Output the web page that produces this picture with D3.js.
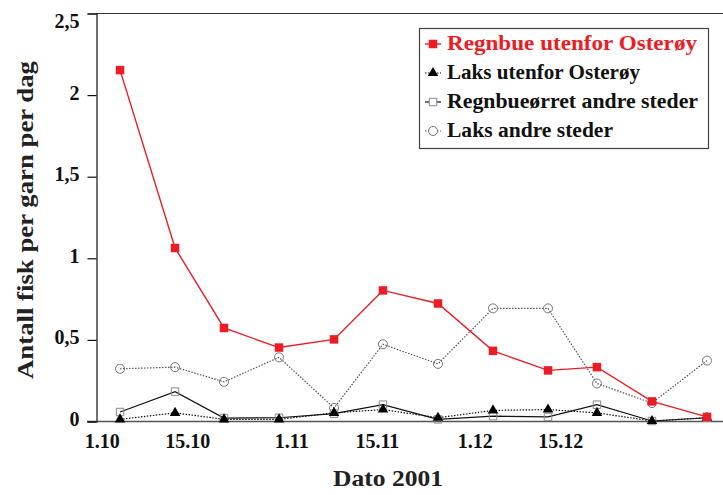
<!DOCTYPE html>
<html>
<head>
<meta charset="utf-8">
<script src="https://cdn.jsdelivr.net/npm/d3@7"></script>
<style>
  body { margin: 0; background: #fff; }
  svg { display: block; font-family: "Liberation Serif", "Times New Roman", serif; font-weight: bold; }
</style>
</head>
<body>
<div id="chart"></div>
<script>
'use strict';

// sampling dates (day.month), 2001 season
var sampleDates = ['2001-10-04', '2001-10-13', '2001-10-21', '2001-10-30', '2001-11-08', '2001-11-16',
    '2001-11-25', '2001-12-04', '2001-12-13', '2001-12-21', '2001-12-30', '2002-01-08'];

var seriesNames = ['Regnbue utenfor Osterøy', 'Laks utenfor Osterøy',
    'Regnbueørret andre steder', 'Laks andre steder'];

var regnbueOsteroy = [2.15, 1.06, 0.57, 0.45, 0.50, 0.80, 0.72, 0.43, 0.31, 0.33, 0.12, 0.025];
var laksOsteroy = [0.01, 0.05, 0.01, 0.01, 0.05, 0.07, 0.02, 0.065, 0.07, 0.05, 0.0, 0.02];
var regnbueAndre = [0.055, 0.18, 0.018, 0.02, 0.045, 0.10, 0.01, 0.03, 0.025, 0.10, 0.0, 0.02];
var laksAndre = [0.32, 0.33, 0.24, 0.39, 0.08, 0.47, 0.35, 0.69, 0.69, 0.23, 0.11, 0.37];

var xTickDates = ['2001-10-01', '2001-10-15', '2001-11-01', '2001-11-15', '2001-12-01', '2001-12-15'];
var xTickLabels = ['1.10', '15.10', '1.11', '15.11', '1.12', '15.12'];
var yTicks = [0, 0.5, 1, 1.5, 2, 2.5];

(function() {
    var width = 723,
        height = 495,
        plotLeft = 96,
        plotTop = 13,
        plotBottom = 421,
        serif = '"Liberation Serif", "Times New Roman", serif';

    var parse = d3.utcParse('%Y-%m-%d');
    var nb = d3.formatLocale({decimal: ',', thousands: ' ', grouping: [3], currency: ['', ' kr']});

    var svg = d3.select('#chart')
        .append('svg')
        .attr('width', width)
        .attr('height', height)
        .attr('font-family', serif);

    var x = d3.scaleUtc()
        .domain([parse('2001-10-01'), parse('2002-01-08')])
        .range([101.7, 707]);

    var y = d3.scaleLinear()
        .domain([0, 2.5])
        .range([plotBottom, plotTop]);

    // plot frame: top border and baseline
    svg.append('line')
        .attr('x1', plotLeft).attr('x2', width)
        .attr('y1', y(2.5) + 0.5).attr('y2', y(2.5) + 0.5)
        .attr('stroke', '#333').attr('stroke-width', 1);
    svg.append('line')
        .attr('x1', plotLeft - 9).attr('x2', width)
        .attr('y1', y(0) + 0.5).attr('y2', y(0) + 0.5)
        .attr('stroke', '#555').attr('stroke-width', 1.5);

    // y axis
    var yAxis = svg.append('g')
        .attr('transform', 'translate(' + (plotLeft + 0.5) + ',0.5)')
        .call(d3.axisLeft(y).tickValues(yTicks).tickSize(9).tickPadding(8).tickFormat(nb.format('~g')));
    yAxis.attr('font-family', serif);
    yAxis.select('.domain').attr('stroke', '#111').attr('stroke-width', 1.2);
    yAxis.selectAll('.tick line').attr('stroke', '#111').attr('stroke-width', 1.2);
    yAxis.selectAll('text')
        .style('font-size', '20px')
        .style('font-family', serif)
        .style('font-weight', 'bold')
        .attr('fill', '#111')
        .attr('dy', function(d) { return d === 2.5 ? '0.72em' : '0.2em'; });

    // x axis labels only
    var xAxis = svg.append('g')
        .attr('transform', 'translate(0,' + plotBottom + ')')
        .call(d3.axisBottom(x)
            .tickValues(xTickDates.map(parse))
            .tickSize(0)
            .tickPadding(13)
            .tickFormat(function(d, i) { return xTickLabels[i]; }));
    xAxis.attr('font-family', serif);
    xAxis.select('.domain').remove();
    xAxis.selectAll('text')
        .style('font-size', '20px')
        .style('font-family', serif)
        .style('font-weight', 'bold')
        .attr('fill', '#111');

    // axis titles
    svg.append('text')
        .attr('transform', 'translate(33,220) rotate(-90)')
        .attr('text-anchor', 'middle')
        .attr('textLength', 318)
        .attr('lengthAdjust', 'spacingAndGlyphs')
        .style('font-size', '24px')
        .style('font-family', serif)
        .attr('fill', '#222')
        .text('Antall fisk per garn per dag');

    svg.append('text')
        .attr('x', 388)
        .attr('y', 486)
        .attr('text-anchor', 'middle')
        .attr('textLength', 110)
        .attr('lengthAdjust', 'spacingAndGlyphs')
        .style('font-size', '23px')
        .style('font-family', serif)
        .attr('fill', '#222')
        .text('Dato 2001');

    var dates = sampleDates.map(parse);
    var series = [
        {name: seriesNames[3], values: laksAndre, line: '#555', dash: '1.5,1.5', marker: 'circle', mstroke: '#777', mfill: 'none'},
        {name: seriesNames[2], values: regnbueAndre, line: '#111', dash: null, marker: 'square', mstroke: '#888', mfill: 'none'},
        {name: seriesNames[1], values: laksOsteroy, line: '#111', dash: '1.5,1.5', marker: 'triangle', mstroke: 'none', mfill: '#000'},
        {name: seriesNames[0], values: regnbueOsteroy, line: '#ed1c24', dash: null, marker: 'redsquare', mstroke: 'none', mfill: '#ed1c24'}
    ];

    var symbolFor = {
        circle: d3.symbol().type(d3.symbolCircle).size(64),
        square: d3.symbol().type(d3.symbolSquare).size(56),
        triangle: d3.symbol().type(d3.symbolTriangle).size(48),
        redsquare: d3.symbol().type(d3.symbolSquare).size(72)
    };

    var line = d3.line()
        .x(function(d, i) { return x(dates[i]); })
        .y(function(d) { return y(d); });

    series.forEach(function(s) {
        svg.append('path')
            .datum(s.values)
            .attr('d', line)
            .attr('fill', 'none')
            .attr('stroke', s.line)
            .attr('stroke-width', s.marker === 'redsquare' ? 1.4 : 1.2)
            .attr('stroke-dasharray', s.dash);
        svg.selectAll(null)
            .data(s.values)
            .enter()
            .append('path')
            .attr('transform', function(d, i) { return 'translate(' + x(dates[i]) + ',' + y(d) + ')'; })
            .attr('d', symbolFor[s.marker])
            .attr('fill', s.mfill)
            .attr('stroke', s.mstroke)
            .attr('stroke-width', 1);
    });

    // legend
    var legend = svg.append('g').attr('transform', 'translate(419,28)');
    legend.append('rect')
        .attr('x', 0.5).attr('y', 0.5)
        .attr('width', 289).attr('height', 120)
        .attr('fill', '#fff')
        .attr('stroke', '#444')
        .attr('stroke-width', 1.2);

    var legendLengths = [250, 193, 251, 166];
    series.slice().reverse().forEach(function(s, i) {
        var yy = 22 + i * 29;
        legend.append('line')
            .attr('x1', 6).attr('x2', 22)
            .attr('y1', yy - 6).attr('y2', yy - 6)
            .attr('stroke', s.line)
            .attr('stroke-width', s.marker === 'redsquare' ? 1.4 : 1.2)
            .attr('stroke-dasharray', s.dash);
        legend.append('path')
            .attr('transform', 'translate(14,' + (yy - 6) + ')')
            .attr('d', symbolFor[s.marker])
            .attr('fill', s.mfill === 'none' ? '#fff' : s.mfill)
            .attr('stroke', s.mstroke);
        legend.append('text')
            .attr('x', 28)
            .attr('y', yy)
            .attr('textLength', legendLengths[i])
            .attr('lengthAdjust', 'spacingAndGlyphs')
            .style('font-size', '20px')
            .style('font-family', serif)
            .attr('fill', s.marker === 'redsquare' ? '#ed1c24' : '#111')
            .text(s.name);
    });
})();
</script>
</body>
</html>
